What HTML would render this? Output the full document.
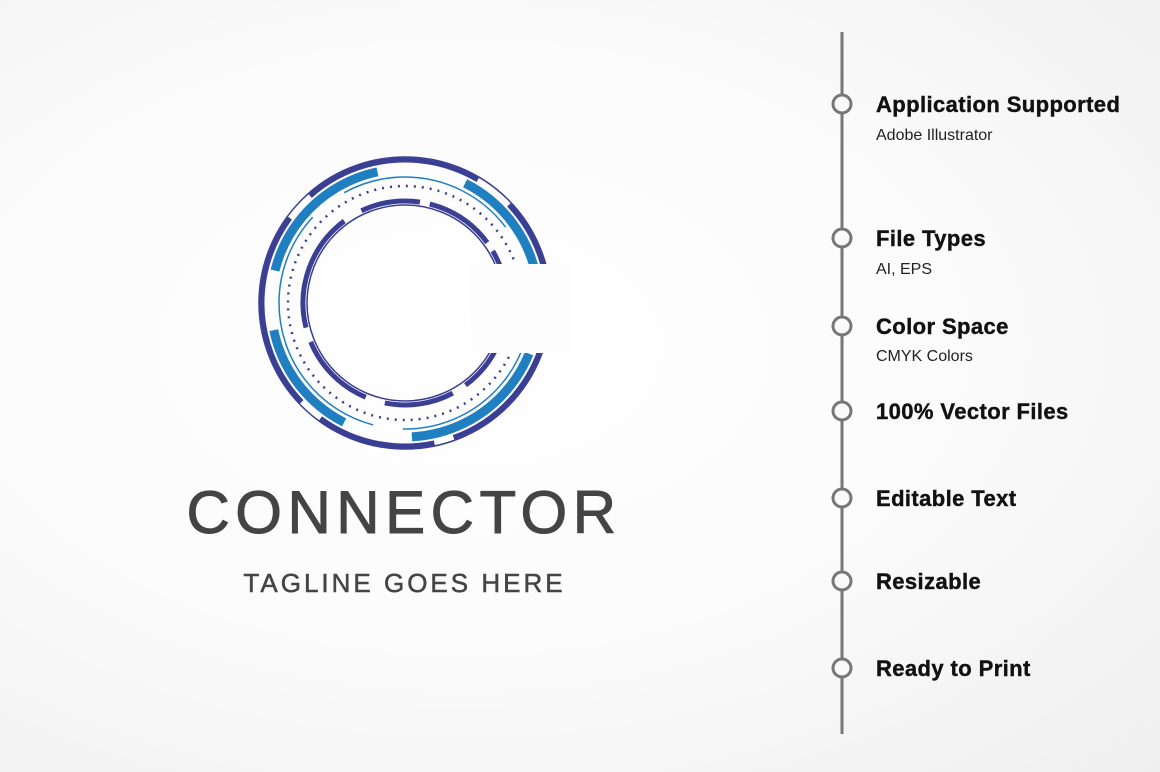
<!DOCTYPE html>
<html><head><style>
body{margin:0;width:1160px;height:772px;overflow:hidden;background:radial-gradient(ellipse at 40% 45%,#ffffff 0%,#fbfbfb 50%,#efefef 100%);font-family:"Liberation Sans",sans-serif;position:relative}
.t{position:absolute;left:876px;font-weight:bold;font-size:22px;letter-spacing:0.4px;color:#111;-webkit-text-stroke:0.4px #111}
.s{position:absolute;left:876px;font-size:16px;color:#222}
</style></head><body>
<svg width="1160" height="772" style="position:absolute;left:0;top:0">
<g fill="none" transform="translate(405,303)">
<circle r="146" stroke="#3b3f94" stroke-width="1.5"/>
<circle r="143" stroke="#3b3f94" stroke-width="5" stroke-dasharray="150 20 120 25 200 30 180 40" transform="rotate(10)"/>
<circle r="134" stroke="#1f7fc1" stroke-width="9" stroke-dasharray="110 70 120 60 150 90 120 80" transform="rotate(40)"/>
<circle r="126" stroke="#1f7fc1" stroke-width="1.5" stroke-dasharray="200 30 260 40 180 50"/>
<circle r="117" stroke="#3b3f94" stroke-width="2.5" stroke-dasharray="2 6"/>
<circle r="102" stroke="#3b3f94" stroke-width="5" stroke-dasharray="60 10 40 20 90 15 70 20 80 15 120 20" transform="rotate(-70)"/>
<circle r="98" stroke="#3b3f94" stroke-width="1.5"/>
</g>
<rect x="470" y="264" width="100" height="89" fill="#fdfdfd"/>
<line x1="842" y1="32" x2="842" y2="734" stroke="#777" stroke-width="3"/>
<g fill="#fafafa" stroke="#777" stroke-width="3">
<circle cx="842" cy="104" r="9"/><circle cx="842" cy="238" r="9"/><circle cx="842" cy="326" r="9"/><circle cx="842" cy="411" r="9"/><circle cx="842" cy="498" r="9"/><circle cx="842" cy="581" r="9"/><circle cx="842" cy="668" r="9"/>
</g>
</svg>
<div style="position:absolute;left:0;width:808px;top:478px;text-align:center;font-size:60px;letter-spacing:5.5px;color:#444;-webkit-text-stroke:1px #444">CONNECTOR</div>
<div style="position:absolute;left:0;width:809px;top:568px;text-align:center;font-size:26px;letter-spacing:3px;color:#444;-webkit-text-stroke:0.5px #444">TAGLINE GOES HERE</div>
<div class="t" style="top:92px">Application Supported</div><div class="s" style="top:127px">Adobe Illustrator</div>
<div class="t" style="top:226px">File Types</div><div class="s" style="top:261px">AI, EPS</div>
<div class="t" style="top:314px">Color Space</div><div class="s" style="top:348px">CMYK Colors</div>
<div class="t" style="top:399px">100% Vector Files</div>
<div class="t" style="top:486px">Editable Text</div>
<div class="t" style="top:569px">Resizable</div>
<div class="t" style="top:656px">Ready to Print</div>
</body></html>
